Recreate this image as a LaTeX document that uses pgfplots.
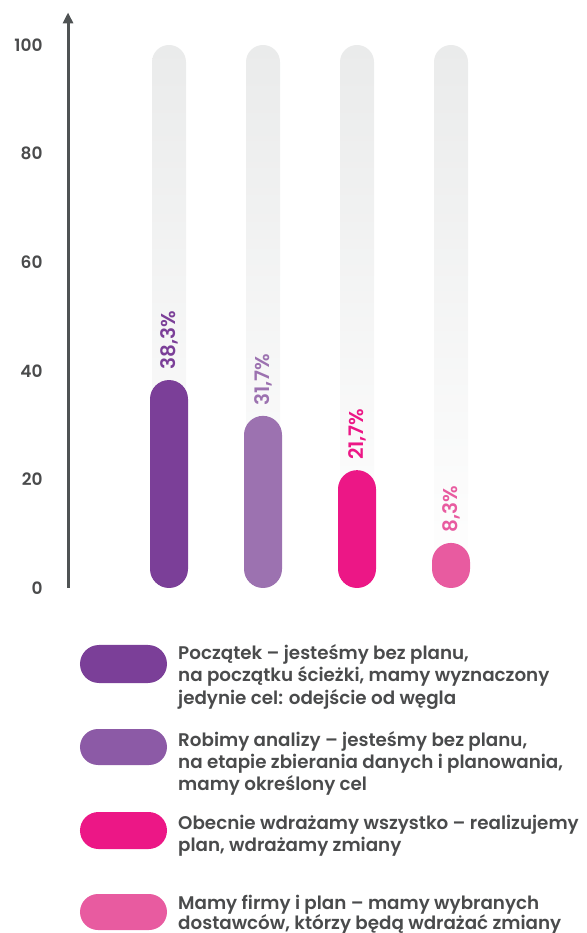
\documentclass[border=0pt]{standalone}
\usepackage{fontspec}
\setmainfont{Poppins}
\newfontfamily\psemi{Poppins SemiBold}
\newfontfamily\pmed{Poppins Medium}
\usepackage{pgfplots}
\pgfplotsset{compat=1.18}
\usetikzlibrary{arrows.meta}
\definecolor{c1}{HTML}{7B3F98}
\definecolor{c2}{HTML}{9C72B0}
\definecolor{c3}{HTML}{EC1786}
\definecolor{c4}{HTML}{E85BA0}
\definecolor{l2}{HTML}{8C5AA6}
\definecolor{axisgray}{HTML}{4F5354}
\definecolor{txt}{HTML}{4A4B4C}
\definecolor{bg}{HTML}{EAEBEB}
\pgfplotsset{/pgf/number format/assume math mode=true}
\newcommand{\lfont}{\fontsize{18.3}{22}\selectfont\psemi}
\newcommand{\vfont}{\fontsize{20}{20}\selectfont\psemi}
\begin{document}
\begin{tikzpicture}[x=1pt,y=1pt]
\useasboundingbox (-169,-345) rectangle (417,588);
\begin{axis}[
  at={(0,0)}, anchor=origin,
  x=94pt, y=5.43pt,
  xmin=-1.074, xmax=3.5, ymin=0, ymax=106,
  axis x line=none, axis y line=left,
  axis line style={line width=3pt, draw=axisgray},
  y axis line style={-{Triangle[width=10pt,length=11pt]}, line width=3pt, draw=axisgray},
  ytick={0,20,40,60,80,100},
  major tick length=0pt,
  yticklabel style={font=\fontsize{17}{17}\selectfont\psemi, text=txt, anchor=east, xshift=-22pt},
  clip=false,
  nodes near coords={\pgfmathprintnumber[use comma,fixed,fixed zerofill,precision=1]{\pgfplotspointmeta}\%},
]
\addplot[ybar, bar shift=0pt, bar width=34pt, draw=none, top color=bg, bottom color=white, rounded corners=17pt, nodes near coords={}] coordinates {(0,100) (1,100) (2,100) (3,100)};
\addplot[ybar, bar shift=0pt, bar width=38pt, draw=none, fill=c1, rounded corners=19pt,
  nodes near coords style={text=c1, rotate=90, anchor=west, inner xsep=10pt, font=\vfont}] coordinates {(0,38.3)};
\addplot[ybar, bar shift=0pt, bar width=38pt, draw=none, fill=c2, rounded corners=19pt,
  nodes near coords style={text=c2, rotate=90, anchor=west, inner xsep=10pt, font=\vfont}] coordinates {(1,31.7)};
\addplot[ybar, bar shift=0pt, bar width=38pt, draw=none, fill=c3, rounded corners=19pt,
  nodes near coords style={text=c3, rotate=90, anchor=west, inner xsep=10pt, font=\vfont}] coordinates {(2,21.7)};
\addplot[ybar, bar shift=0pt, bar width=38pt, draw=none, fill=c4, rounded corners=19pt,
  nodes near coords style={text=c4, rotate=90, anchor=west, inner xsep=10pt, font=\vfont}] coordinates {(3,8.3)};
\end{axis}
% legend (pixel (px,py) -> (px-169, 588-py))
\fill[c1, rounded corners=19pt] (-89,-57) rectangle (-2,-95);
\fill[l2, rounded corners=18pt] (-89,-141) rectangle (-2,-177);
\fill[c3, rounded corners=18.5pt] (-89,-224) rectangle (-2,-261);
\fill[c4, rounded corners=18pt] (-89,-306) rectangle (-2,-342);
\begin{scope}[every node/.style={anchor=base west, inner sep=0pt, text=txt, font=\lfont}]
\node at (9,-71) {Początek – jesteśmy bez planu,};
\node at (9,-93.5) {na początku ścieżki, mamy wyznaczony};
\node at (9,-116) {jedynie cel: odejście od węgla};
\node at (9,-158) {Robimy analizy – jesteśmy bez planu,};
\node at (9,-180) {na etapie zbierania danych i planowania,};
\node at (9,-202) {mamy określony cel};
\node at (9,-241) {Obecnie wdrażamy wszystko – realizujemy};
\node at (9,-263) {plan, wdrażamy zmiany};
\node at (9,-321) {Mamy firmy i plan – mamy wybranych};
\node at (9,-341) {dostawców, którzy będą wdrażać zmiany};
\end{scope}
\end{tikzpicture}
\end{document}
